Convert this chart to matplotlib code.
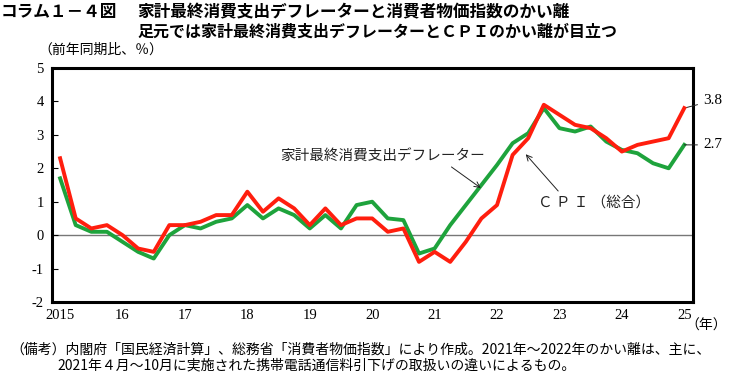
import matplotlib
matplotlib.use("Agg")
import matplotlib.pyplot as plt
import numpy as np

plt.rcParams['font.family'] = ['Noto Sans CJK JP', 'DejaVu Sans']

# quarterly, 2015Q1 .. 2025Q1
cpi = [2.3, 0.5, 0.2, 0.3,
       0.0, -0.4, -0.5, 0.3,
       0.3, 0.4, 0.6, 0.6,
       1.3, 0.7, 1.1, 0.8,
       0.3, 0.8, 0.3, 0.5,
       0.5, 0.1, 0.2, -0.8,
       -0.5, -0.8, -0.2, 0.5,
       0.9, 2.4, 2.9, 3.9,
       3.6, 3.3, 3.2, 2.9,
       2.5, 2.7, 2.8, 2.9,
       3.8]
defl = [1.7, 0.3, 0.1, 0.1,
        -0.2, -0.5, -0.7, 0.0,
        0.3, 0.2, 0.4, 0.5,
        0.9, 0.5, 0.8, 0.6,
        0.2, 0.6, 0.2, 0.9,
        1.0, 0.5, 0.45, -0.55,
        -0.4, 0.3, 0.9, 1.5,
        2.1, 2.75, 3.05, 3.8,
        3.2, 3.1, 3.25, 2.8,
        2.55, 2.45, 2.15, 2.0,
        2.7]
year_labels = ['2015', '16', '17', '18', '19', '20', '21', '22', '23', '24', '25']
yticks = [-2, -1, 0, 1, 2, 3, 4, 5]

x = np.arange(len(cpi)) / 4.0

fig = plt.figure(figsize=(7.29, 3.73), dpi=100)
ax = fig.add_axes([52/729, 1-302/373, (693-52)/729, (302-68)/373])

ax.axhline(0, color='#777777', lw=1.0, zorder=1)
ax.plot(x, defl, color='#1ea33c', lw=2.8, zorder=3)
ax.plot(x, cpi, color='#ff1e0e', lw=2.8, zorder=4)

ax.set_xlim(-0.13, 10.14)
ax.set_ylim(-2, 5)
ax.set_yticks(yticks)
ax.set_yticklabels([str(v) for v in yticks], family='Liberation Serif', fontsize=10.5)
ax.set_xticks(np.arange(len(year_labels)))
ax.set_xticklabels(year_labels, family='Liberation Serif', fontsize=10.5)
ax.tick_params(axis='y', direction='in', length=4, width=0.8, pad=6)
ax.tick_params(axis='x', length=0, pad=5)
for s in ax.spines.values():
    s.set_linewidth(2.2)
    s.set_color('black')

ser = ['Noto Sans CJK JP', 'DejaVu Sans']
ax.text(6.80, 2.33, '家計最終消費支出デフレーター', ha='right', va='center',
        fontsize=10.5, color='#222222', family=ser)
ax.annotate('', xy=(6.74, 1.41), xytext=(6.27, 2.04),
            arrowprops=dict(arrowstyle='->', lw=0.7, color='#222222', shrinkA=0, shrinkB=0))
ax.text(7.66, 0.96, 'Ｃ Ｐ Ｉ （総合）', ha='left', va='center',
        fontsize=10.5, color='#222222', family=ser)
ax.annotate('', xy=(7.46, 2.42), xytext=(7.98, 1.32),
            arrowprops=dict(arrowstyle='->', lw=0.7, color='#222222', shrinkA=0, shrinkB=0))

# end labels
ax.annotate('3.8', xy=(x[-1], cpi[-1]), xytext=(10.3, 4.02), ha='left', va='center',
            fontsize=11, family='Liberation Serif', annotation_clip=False,
            arrowprops=dict(arrowstyle='-', lw=0.7, color='#222222', shrinkA=2, shrinkB=0))
ax.annotate('2.7', xy=(x[-1], defl[-1]), xytext=(10.3, 2.7), ha='left', va='center',
            fontsize=11, family='Liberation Serif', annotation_clip=False,
            arrowprops=dict(arrowstyle='-', lw=0.7, color='#222222', shrinkA=2, shrinkB=0))

fig.text(1/729, 1-12/373, 'コラム１－４図', fontsize=12, fontweight='bold', va='center', ha='left')
fig.text(137/729, 1-12/373, '家計最終消費支出デフレーターと消費者物価指数のかい離',
         fontsize=12, fontweight='bold', va='center', ha='left')
fig.text(137/729, 1-32/373, '足元では家計最終消費支出デフレーターとＣＰＩのかい離が目立つ',
         fontsize=11.5, fontweight='bold', va='center', ha='left')
fig.text(38/729, 1-50/373, '（前年同期比、％）', fontsize=10, va='center', ha='left')
fig.text(727/729, 1-326/373, '（年）', fontsize=10, va='center', ha='right')
fig.text(10/729, 1-350/373,
         '（備考）内閣府「国民経済計算」、総務省「消費者物価指数」により作成。2021年～2022年のかい離は、主に、',
         fontsize=10, va='center', ha='left')
fig.text(57/729, 1-365/373,
         '2021年４月～10月に実施された携帯電話通信料引下げの取扱いの違いによるもの。',
         fontsize=10, va='center', ha='left')

fig.savefig('out.png', dpi=100)
